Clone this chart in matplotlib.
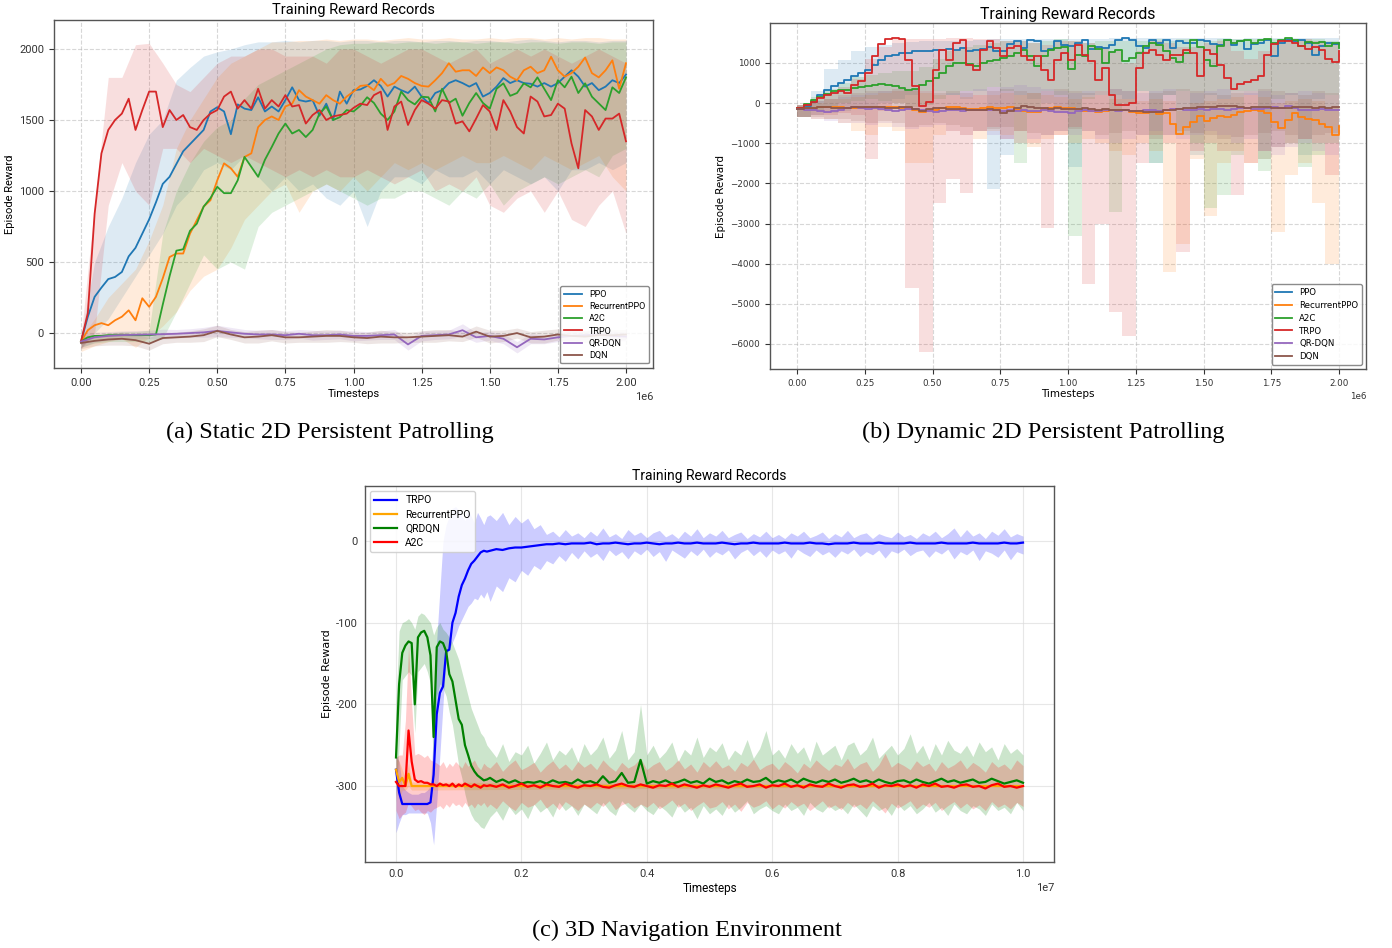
import numpy as np
import matplotlib
matplotlib.use("Agg")
import matplotlib.pyplot as plt
from matplotlib.ticker import FuncFormatter

# ---------------- Panel (a): Static 2D Persistent Patrolling ----------------
a_labels = ["PPO", "RecurrentPPO", "A2C", "TRPO", "QR-DQN", "DQN"]
a_step = 25000            # mean curves sampled every 25k steps (81 points)
a_band_step = 50000       # bands / flat curves sampled every 50k steps (41 points)

a_ppo = [-60, 115, 255, 320, 380, 395, 430, 540, 600, 700, 800, 920, 1050, 1100, 1190, 1280, 1330, 1380, 1430, 1560,
         1590, 1560, 1400, 1610, 1580, 1570, 1660, 1560, 1595, 1560, 1640, 1730, 1640, 1630, 1640, 1530, 1615, 1500, 1700, 1615,
         1710, 1715, 1740, 1780, 1740, 1665, 1735, 1710, 1690, 1735, 1665, 1620, 1690, 1710, 1760, 1780, 1760, 1735, 1760, 1665,
         1690, 1735, 1795, 1760, 1780, 1760, 1755, 1735, 1760, 1735, 1760, 1805, 1850, 1805, 1735, 1760, 1710, 1735, 1780, 1760, 1820]
a_rppo = [-60, 20, 55, 70, 55, 90, 115, 160, 90, 245, 185, 255, 385, 535, 560, 560, 700, 795, 890, 935,
          1075, 1195, 1160, 1100, 1240, 1265, 1450, 1500, 1525, 1500, 1595, 1615, 1710, 1665, 1640, 1615, 1675, 1640, 1615, 1665,
          1700, 1740, 1745, 1710, 1790, 1740, 1760, 1810, 1790, 1760, 1740, 1735, 1780, 1830, 1900, 1840, 1850, 1850, 1810, 1870,
          1830, 1870, 1850, 1805, 1780, 1850, 1875, 1830, 1850, 1945, 1850, 1805, 1830, 1875, 1940, 1830, 1800, 1850, 1920, 1720, 1900]
a_a2c = [-60, -30, -20, -20, -15, -15, -15, -15, -15, -15, -15, -10, 200, 400, 580, 590, 720, 770, 890, 950,
         1030, 985, 985, 1075, 1240, 1170, 1100, 1220, 1310, 1405, 1475, 1405, 1430, 1380, 1430, 1545, 1595, 1500, 1520, 1570,
         1560, 1600, 1660, 1620, 1545, 1500, 1560, 1700, 1640, 1610, 1664, 1660, 1560, 1720, 1620, 1650, 1530, 1620, 1690, 1620,
         1580, 1720, 1758, 1670, 1690, 1758, 1730, 1800, 1720, 1640, 1780, 1730, 1805, 1690, 1758, 1664, 1617, 1570, 1730, 1690, 1800]
a_trpo = [-60, 140, 840, 1265, 1430, 1500, 1545, 1650, 1430, 1570, 1700, 1700, 1450, 1570, 1500, 1535, 1450, 1430, 1500, 1545,
          1570, 1665, 1700, 1580, 1640, 1580, 1720, 1580, 1640, 1595, 1675, 1595, 1605, 1475, 1535, 1570, 1500, 1525, 1535, 1545,
          1585, 1615, 1605, 1675, 1700, 1430, 1595, 1630, 1465, 1570, 1640, 1615, 1580, 1640, 1630, 1475, 1490, 1420, 1510, 1605,
          1560, 1430, 1640, 1560, 1450, 1405, 1665, 1630, 1525, 1535, 1615, 1580, 1335, 1160, 1570, 1525, 1430, 1510, 1510, 1545, 1350]
a_qrdqn = [-60, -30, -20, -15, -12, -10, -8, -5, 0, 5, 15, 5, -5, -10, -10, -15, -5, -15, -15, -10,
           -20, -20, -15, -10, -80, -20, -15, -10, 20, -30, -20, -40, -100, -40, -45, -30, -20, -15, -10, -20, -25]
a_dqn = [-70, -55, -45, -40, -50, -75, -35, -30, -25, -15, 15, -10, -30, -25, -15, -30, -30, -25, -20, -20,
         -30, -35, -25, -30, -30, -25, -20, -15, -25, 10, -25, -20, 0, -30, -25, -10, -20, -25, -15, -15, -10]
a_qrdqn_spread = [40, 35, 30, 30, 30, 30, 35, 30, 30, 35, 40, 35, 30, 30, 35, 30, 30, 35, 30, 30,
                  35, 30, 30, 35, 40, 35, 30, 30, 45, 35, 30, 35, 40, 35, 30, 30, 35, 30, 30, 35, 30]
a_dqn_spread = [40, 35, 40, 45, 40, 45, 40, 35, 40, 45, 40, 35, 40, 45, 40, 40, 35, 40, 45, 40,
                35, 40, 45, 40, 35, 40, 45, 40, 35, 40, 45, 40, 35, 40, 45, 40, 35, 40, 45, 40, 35]

a_ppo_hi = [-30, 500, 750, 950, 1200, 1400, 1500, 1780, 1870, 1950, 1980, 2000, 2030, 2050, 2050, 2060, 2050, 2060, 2060, 2050,
            2060, 2060, 2050, 2060, 2060, 2050, 2060, 2060, 2050, 2060, 2060, 2050, 2060, 2070, 2060, 2050, 2060, 2060, 2050, 2060, 2060]
a_ppo_lo = [-100, 0, 100, 250, 400, 550, 700, 900, 1000, 1150, 1200, 1150, 1250, 1100, 1000, 1100, 1000, 1050, 950, 900,
            1000, 750, 1000, 1100, 1100, 1050, 1150, 1100, 1100, 1150, 1050, 1150, 1100, 1050, 1100, 1000, 1150, 1150, 1200, 1150, 1200]
a_rppo_hi = [-30, 100, 250, 350, 450, 650, 900, 1300, 1500, 1650, 1800, 1900, 1950, 2000, 2050, 2050, 2060, 2060, 2070, 2060,
             2070, 2070, 2060, 2070, 2080, 2070, 2070, 2080, 2070, 2070, 2080, 2070, 2080, 2080, 2070, 2080, 2070, 2080, 2080, 2070, 2070]
a_rppo_lo = [-130, -90, -60, -40, -100, -30, 50, 150, 300, 400, 450, 600, 800, 900, 1000, 1050, 850, 1000, 1050, 1000,
             1100, 1000, 1100, 1200, 1150, 1200, 1150, 1200, 1250, 1200, 1200, 1250, 1200, 1150, 1250, 1200, 1150, 1200, 1250, 1100, 1000]
a_a2c_hi = [-30, -10, 0, 10, 10, 20, 700, 1000, 1200, 1350, 1450, 1500, 1650, 1750, 1800, 1850, 1900, 1950, 2000, 2030,
            2040, 2040, 2050, 2040, 2050, 2050, 2040, 2050, 2050, 2040, 2050, 2050, 2040, 2050, 2050, 2040, 2050, 2050, 2040, 2050, 2050]
a_a2c_lo = [-100, -70, -60, -60, -60, -60, -40, 150, 350, 550, 450, 500, 450, 750, 850, 900, 950, 1000, 1050, 1000,
            950, 900, 950, 950, 1000, 1000, 950, 900, 1000, 950, 1050, 900, 1000, 1050, 1100, 1050, 1100, 1150, 1100, 1250, 1300]
a_trpo_hi = [-30, 900, 1800, 1800, 2030, 2040, 1900, 1750, 1700, 1800, 1900, 1950, 1950, 2000, 2000, 1950, 1950, 1950, 1900, 2000,
             2000, 1950, 1900, 1950, 2000, 2000, 1950, 1900, 1950, 2000, 1900, 1950, 2000, 1950, 2000, 1950, 1900, 1950, 2000, 1950, 1900]
a_trpo_lo = [-110, 0, 900, 1200, 1000, 900, 1300, 1300, 1200, 1300, 1250, 1200, 1250, 1200, 1150, 1100, 1150, 1100, 1150, 1100,
             1100, 1150, 1100, 1050, 1100, 1150, 1000, 1050, 1000, 1100, 900, 850, 950, 1000, 850, 1000, 800, 750, 900, 1000, 700]

# ---------------- Panel (b): Dynamic 2D Persistent Patrolling ----------------
b_ppo = [-150, -80, 35, 200, 325, 415, 500, 580, 665, 750, 830, 955, 1080, 1165, 1205, 1245, 1245, 1290, 1290, 1310,
         1330, 1330, 1345, 1330, 1370, 1310, 1330, 1345, 1410, 1290, 1290, 1480, 1540, 1370, 1580, 1540, 1290, 1345, 1540, 1455,
         1430, 1495, 1580, 1345, 1410, 1370, 1455, 1580, 1620, 1580, 1430, 1370, 1580, 1495, 1565, 1370, 1537, 1495, 1510, 1580,
         1537, 1480, 1455, 1580, 1455, 1537, 1345, 1480, 1510, 1565, 1180, 1510, 1565, 1537, 1565, 1510, 1205, 1413, 1510, 1480, 1510]
b_rppo = [-150, -120, -110, -100, -95, -100, -105, -110, -125, -110, -95, -90, -85, -100, -90, -120, -130, -180, -210, -170,
          -160, -110, -100, -95, -130, -150, -140, -110, -100, -130, -120, -100, -160, -185, -210, -230, -150, -120, -100, -130,
          -125, -150, -185, -200, -210, -190, -170, -160, -180, -230, -250, -240, -230, -260, -250, -520, -780, -600, -480, -330,
          -450, -380, -330, -350, -300, -230, -185, -170, -190, -240, -480, -620, -420, -250, -350, -400, -430, -520, -600, -790, -580]
b_a2c = [-125, -15, 85, 165, 230, 290, 330, 330, 375, 400, 415, 455, 480, 455, 415, 375, 330, 350, 455, 540,
         625, 750, 915, 1000, 1000, 980, 930, 1000, 1040, 1080, 1120, 1180, 1247, 1330, 1163, 930, 1163, 1330, 1370, 1396,
         850, 1205, 1163, 1413, 1345, 1000, 1263, 1313, 1040, 1120, 1247, 1430, 1496, 1454, 1288, 1120, 1015, 1247, 1580, 1396,
         1080, 930, 1430, 1580, 1510, 1537, 1580, 1510, 1580, 1604, 1510, 1580, 1612, 1580, 1430, 1530, 1496, 1530, 1413, 1496, 1380]
b_trpo = [-125, -40, 40, 125, 210, 250, 290, 250, 455, 540, 750, 1165, 1480, 1595, 1620, 1595, 1080, 415, -60, 20,
          830, 1330, 1080, 1495, 1580, 955, 830, 1330, 1537, 1370, 1165, 1370, 1413, 1163, 1080, 1163, 830, 580, 1080, 1245,
          1080, 1455, 1205, 1040, 580, 870, 210, -40, -40, 0, 870, 1245, 1330, 1205, 1080, 1205, 1205, 1330, 1245, 665,
          1330, 1230, 955, 625, 350, 480, 520, 580, 665, 1205, 1480, 1537, 1537, 1510, 1430, 1345, 1396, 1330, 1100, 1015, 1288]
b_qrdqn = [-150, -160, -180, -200, -210, -190, -160, -130, -90, -110, -140, -130, -150, -170, -185, -170, -150, -140, -160, -190,
           -210, -190, -160, -170, -185, -160, -180, -170, -165, -180, -200, -180, -190, -180, -200, -190, -180, -200, -220, -230,
           -250, -200, -180, -190, -200, -180, -170, -190, -180, -200, -190, -170, -180, -190, -170, -150, -140, -160, -170, -150,
           -160, -140, -150, -160, -140, -110, -130, -150, -140, -120, -90, -110, -60, -130, -160, -170, -180, -150, -170, -180, -170]
b_dqn = [-150, -130, -110, -95, -100, -115, -120, -110, -105, -100, -95, -90, -100, -110, -120, -100, -95, -150, -185, -150,
         -130, -125, -135, -140, -150, -165, -180, -160, -150, -180, -250, -200, -120, -70, -90, -110, -130, -140, -130, -140,
         -150, -140, -130, -150, -160, -155, -160, -170, -180, -190, -200, -215, -230, -220, -180, -160, -140, -120, -110, -100,
         -95, -90, -80, -70, -80, -100, -110, -95, -100, -90, -120, -130, -110, -95, -100, -90, -110, -100, -110, -105, -100]

b_ppo_hi = [-80, 300, 850, 1080, 1290, 1410, 1450, 1500, 1520, 1540, 1550, 1560, 1560, 1580, 1590, 1600, 1600, 1600, 1600, 1600,
            1600, 1600, 1600, 1610, 1610, 1620, 1620, 1620, 1610, 1620, 1620, 1610, 1600, 1620, 1620, 1630, 1620, 1610, 1620, 1610, 1600]
b_ppo_lo = [-350, -300, -250, -200, -150, -100, 0, 100, 200, 300, 300, 200, 100, 300, -2150, -1300, 200, 100, 0, -200,
            -1600, 200, 300, 200, 100, 300, -1500, 200, 300, -1300, 200, 100, 300, 200, -1400, -1100, 200, -1300, 100, 200, 200]
b_rppo_hi = [-50, 0, 100, 100, 150, 200, 250, 300, 300, 250, 200, 200, 150, 200, 200, 250, 200, 250, 200, 150,
             100, 150, 200, 100, 100, 50, 100, 50, -200, 0, 50, 100, 150, 200, 150, 0, 50, 100, 50, -100, 0]
b_rppo_lo = [-350, -400, -400, -500, -700, -800, -600, -700, -1500, -1500, -800, -700, -800, -900, -700, -800, -1000, -1100, -900, -800,
             -1000, -900, -1000, -1200, -1300, -1000, -1200, -4200, -3500, -1400, -2800, -1500, -1200, -1500, -1400, -3200, -1800, -1500, -2500, -4000, -3200]
b_a2c_hi = [-50, 150, 350, 500, 650, 700, 750, 800, 800, 900, 1100, 1300, 1400, 1450, 1500, 1550, 1550, 1500, 1550, 1600,
            1550, 1500, 1550, 1550, 1550, 1550, 1600, 1550, 1600, 1600, 1550, 1600, 1600, 1600, 1600, 1600, 1600, 1600, 1600, 1550, 1550]
b_a2c_lo = [-350, -200, -100, 0, 50, 100, 50, 0, -100, -50, 100, 200, 300, 200, 400, 300, -1500, -200, 300, 200,
            -3300, 100, 200, -2700, 0, 300, -1500, 200, -800, -1000, -2600, -2300, -1300, 300, -1700, 100, -1000, -1600, -1300, -1000, -900]
b_trpo_hi = [-50, 100, 250, 400, 600, 1100, 1400, 1600, 1600, 1600, 1600, 1620, 1620, 1600, 1600, 1550, 1550, 1500, 1450, 1550,
             1550, 1500, 1400, 1300, 1000, 1300, 1550, 1500, 1400, 1400, 1500, 1550, 1300, 1100, 1300, 1500, 1600, 1600, 1550, 1500, 1500]
b_trpo_lo = [-350, -300, -300, -250, -300, -1400, -200, 0, -4600, -6200, -2500, -1900, -2250, -700, -600, -900, -700, -1000, -3100, -800,
             -600, -4500, -3000, -5200, -5800, -1500, -800, -1000, -3700, -1200, -1000, -1200, -2300, -1500, -1200, -1100, -1000, -900, -1000, -1800, -1800]
b_qrdqn_hi = [-50, 50, 100, 150, 200, 250, 300, 300, 350, 300, 300, 250, 300, 350, 400, 400, 450, 400, 350, 300,
              250, 300, 300, 350, 300, 250, 300, 350, 300, 250, 300, 350, 300, 250, 300, 200, 250, 300, 250, 200, 250]
b_qrdqn_lo = [-350, -400, -450, -500, -500, -550, -500, -600, -650, -600, -550, -700, -800, -700, -800, -900, -1000, -900, -800, -700,
              -800, -700, -900, -1000, -900, -800, -700, -800, -900, -800, -700, -800, -1000, -900, -1200, -1300, -1100, -1000, -1200, -1300, -1200]
b_dqn_hi = [-50, 50, 100, 200, 250, 300, 300, 350, 350, 300, 250, 300, 250, 200, 300, 350, 300, 250, 300, 350,
            300, 250, 300, 350, 300, 300, 250, 300, 350, 300, 250, 200, 250, 300, 350, 300, 250, 200, 300, 250, 250]
b_dqn_lo = [-350, -350, -400, -400, -450, -500, -450, -500, -600, -550, -500, -550, -600, -700, -650, -600, -700, -750, -800, -700,
            -650, -700, -800, -750, -700, -800, -900, -800, -700, -750, -800, -900, -850, -800, -750, -700, -800, -900, -800, -750, -700]

# ---------------- Panel (c): 3D Navigation Environment ----------------
c_labels = ["TRPO", "RecurrentPPO", "QRDQN", "A2C"]
c_trpo = [-280, -308, -322, -322, -322, -322, -322, -322, -322, -322, -322, -320, -286, -212, -186, -178, -135, -133, -100, -88,
          -68, -54, -46, -36, -28, -24, -19, -14, -12, -13,
          -12, -10, -11, -9, -8, -8, -7, -6, -5, -4, -4, -3, -4, -3, -3, -3,
          -2, -4, -3, -3, -2, -3, -4, -3, -3, -2, -3, -4, -3, -3, -2, -3, -3, -2, -3, -3,
          -3, -2, -3, -4, -3, -3, -2, -3, -3, -3, -3, -2, -3, -3, -3, -2, -3, -3, -4, -3,
          -3, -3, -2, -3, -3, -3, -2, -3, -3, -3, -3, -2, -3, -3, -3, -3, -2, -3, -3, -3,
          -3, -2, -3, -3, -3, -3, -2, -3, -3, -2]
c_trpo_hi = [-262, -270, -300, -305, -308, -310, -310, -310, -308, -308, -305, -300, -230, -120, -60, 0, 20, 30, 40, 42,
             38, 30, 25, 38, 30, 22, 35, 28, 20, 30,
             32, 25, 35, 20, 30, 22, 28, 15, 20, 8, 12, 5, 14, 6, 10, 4,
             12, 6, 16, 5, 9, 3, 14, 7, 11, 4, 10, 13, 5, 9, 3, 12, 6, 15, 4, 10,
             6, 13, 4, 8, 11, 3, 9, 5, 12, 4, 8, 3, 10, 6, 12, 4, 7, 11, 3, 9,
             5, 13, 4, 8, 10, 3, 9, 6, 4, 11, 5, 8, 3, 10, 6, 12, 4, 9, 16, 5,
             14, 6, 10, 3, 12, 7, 15, 5, 9, 6]
c_trpo_lo = [-357, -345, -335, -335, -333, -333, -333, -333, -333, -333, -333, -345, -372, -320, -262, -200, -140, -132, -124, -115,
             -104, -96, -88, -80, -76, -70, -72, -65, -70, -62,
             -74, -55, -62, -45, -50, -36, -42, -30, -35, -24, -28, -18, -25, -14, -22, -12,
             -20, -15, -24, -11, -18, -13, -22, -12, -17, -10, -19, -13, -25, -11, -16, -21, -12, -18, -10, -20,
             -13, -17, -11, -22, -14, -10, -18, -12, -20, -11, -16, -12, -21, -10, -15, -19, -11, -17, -13, -20,
             -12, -16, -10, -19, -13, -17, -11, -21, -12, -15, -10, -18, -13, -11, -20, -12, -16, -10, -22, -13,
             -17, -11, -24, -12, -15, -20, -11, -23, -13, -16]
c_qrdqn = [-265, -175, -137, -128, -123, -125, -200, -118, -112, -110, -118, -140, -240, -130, -123, -125, -135, -163, -172, -195,
           -218, -225, -250, -262, -275, -282, -287, -290, -293, -292,
           -290, -295, -292, -296, -293, -297, -295, -296, -294, -297, -293, -296, -295, -297, -292, -296,
           -294, -297, -288, -296, -294, -284, -296, -295, -268, -297, -294, -296, -293, -297, -295, -292, -296, -294, -297, -291,
           -295, -293, -297, -294, -296, -292, -295, -294, -290, -296, -293, -295, -292, -296, -291, -294, -296, -293, -295, -292,
           -296, -294, -291, -295, -293, -296, -292, -295, -297, -294, -293, -296, -292, -295, -297, -294, -291, -295, -293, -296,
           -294, -292, -296, -295, -291, -294, -297, -295, -293, -296]
c_qrdqn_hi = [-200, -110, -100, -98, -95, -100, -108, -92, -88, -90, -95, -100, -115, -105, -100, -108, -112, -118, -125, -135,
              -145, -160, -175, -190, -205, -215, -225, -235, -240, -250,
              -255, -265, -248, -270, -258, -262, -250, -272, -260, -246, -268, -256, -262, -252, -270, -248,
              -262, -254, -240, -266, -256, -232, -268, -258, -200, -262, -250, -266, -258, -246, -270, -255, -262, -240, -265, -252,
              -258, -247, -268, -256, -262, -243, -266, -254, -232, -262, -255, -266, -248, -260, -252, -270, -245, -262, -256, -250,
              -268, -250, -246, -262, -255, -240, -266, -258, -250, -262, -254, -236, -260, -250, -268, -248, -262, -244, -256, -260,
              -250, -264, -246, -258, -252, -268, -248, -260, -254, -262]
c_qrdqn_lo = [-320, -250, -170, -165, -160, -165, -235, -160, -155, -150, -160, -175, -290, -190, -175, -180, -190, -210, -225, -250,
              -275, -290, -310, -325, -335, -342, -345, -350, -352, -345,
              -338, -330, -342, -325, -335, -328, -340, -322, -332, -326, -338, -320, -330, -324, -336, -322,
              -328, -334, -320, -330, -336, -318, -326, -332, -322, -330, -335, -324, -330, -338, -322, -332, -326, -340, -324, -334,
              -328, -336, -322, -332, -326, -318, -334, -328, -324, -330, -334, -322, -330, -326, -336, -320, -328, -332, -324, -330,
              -326, -334, -322, -330, -338, -324, -330, -326, -336, -322, -330, -324, -334, -328, -320, -332, -326, -336, -322, -330,
              -334, -324, -328, -336, -322, -330, -326, -334, -320, -330]
c_a2c = [-295, -300, -300, -300, -232, -270, -292, -295, -294, -296, -296, -298, -298, -300, -297, -299, -298, -300, -297, -301,
         -298, -300, -297, -299, -301, -298, -300, -302, -299, -300,
         -299, -301, -298, -302, -300, -297, -301, -299, -302, -298, -300, -301, -297, -300, -302, -299,
         -300, -298, -301, -302, -299, -297, -300, -301, -298, -300, -302, -299, -300, -297, -301, -298, -300, -302, -299, -301,
         -298, -300, -302, -299, -297, -301, -300, -298, -302, -299, -300, -297, -301, -299, -302, -298, -300, -301, -297, -300,
         -302, -299, -298, -301, -300, -297, -302, -299, -300, -298, -301, -299, -302, -298, -300, -297, -301, -300, -302, -299,
         -298, -301, -300, -303, -299, -297, -301, -300, -302, -300]
c_a2c_hi = [-265, -262, -262, -220, -128, -200, -262, -260, -262, -265, -262, -268, -270, -272, -275, -270, -278, -272, -276, -270,
            -274, -278, -270, -276, -272, -268, -276, -280, -272, -276,
            -278, -270, -282, -274, -268, -280, -276, -271, -283, -275, -269, -279, -273, -281, -270, -277,
            -272, -280, -268, -276, -282, -271, -278, -274, -266, -280, -274, -270, -281, -276, -268, -279, -273, -283, -270, -277,
            -269, -278, -274, -282, -271, -276, -267, -280, -275, -272, -280, -270, -276, -284, -272, -278, -268, -275, -281, -273,
            -276, -266, -279, -273, -270, -282, -274, -260, -277, -271, -275, -280, -269, -276, -272, -282, -270, -278, -274, -268,
            -279, -271, -276, -283, -270, -277, -273, -280, -268, -275]
c_a2c_lo = [-330, -340, -335, -332, -320, -325, -330, -328, -332, -335, -330, -332, -328, -326, -324, -328, -322, -326, -320, -324,
            -322, -326, -320, -325, -322, -327, -321, -324, -320, -326,
            -322, -328, -318, -325, -330, -320, -326, -323, -316, -327, -321, -329, -319, -324, -330, -322,
            -327, -320, -325, -318, -329, -323, -320, -327, -322, -326, -320, -328, -323, -317, -326, -321, -330, -324, -319, -327,
            -325, -319, -328, -322, -331, -320, -326, -323, -318, -328, -322, -327, -319, -325, -321, -330, -324, -318, -327, -323,
            -329, -320, -326, -322, -328, -318, -325, -333, -321, -327, -323, -318, -328, -322, -326, -320, -330, -324, -319, -327,
            -321, -328, -323, -330, -319, -326, -322, -328, -320, -325]
c_rppo_t = [0, 50000, 100000, 150000, 200000, 250000, 10000000]
c_rppo = [-280, -295, -290, -300, -285, -300, -300]
c_rppo_hi = [-265, -270, -280, -290, -272, -295, -300]
c_rppo_lo = [-300, -315, -305, -305, -300, -305, -300]

# ---------------- figure ----------------
W, H = 1392, 948
fig = plt.figure(figsize=(W / 100, H / 100), dpi=100)
SANS = ["Roboto", "DejaVu Sans"]
DJ = ["DejaVu Sans"]


def px_axes(l, t, r, b):
    return fig.add_axes([l / W, 1 - b / H, (r - l) / W, (b - t) / H])


def style(ax, fam_tick, tsize, grid_ls, grid_col, grid_alpha, tick_len=3.5):
    for s in ax.spines.values():
        s.set_color("#555555")
        s.set_linewidth(1.0)
    ax.tick_params(labelsize=tsize, colors="#333333", length=tick_len, width=0.8)
    for lab in ax.get_xticklabels() + ax.get_yticklabels():
        lab.set_family(fam_tick)
    ax.xaxis.get_offset_text().set_fontsize(tsize)
    ax.xaxis.get_offset_text().set_family(fam_tick)
    ax.grid(True, linestyle=grid_ls, color=grid_col, alpha=grid_alpha, linewidth=0.8)
    ax.set_axisbelow(True)


tab = ["C0", "C1", "C2", "C3", "C4", "C5"]

# ---- panel a ----
ax = px_axes(53.75, 20, 653.25, 368)
ta = np.arange(len(a_ppo)) * a_step
tb = np.arange(len(a_ppo_hi)) * a_band_step
bands_a = [(a_ppo_lo, a_ppo_hi), (a_rppo_lo, a_rppo_hi), (a_a2c_lo, a_a2c_hi), (a_trpo_lo, a_trpo_hi)]
for (lo, hi), c in zip(bands_a, tab[:4]):
    ax.fill_between(tb, lo, hi, color=c, alpha=0.15, linewidth=0)
qr = np.array(a_qrdqn); dq = np.array(a_dqn)
ax.fill_between(tb, qr - np.array(a_qrdqn_spread), qr + np.array(a_qrdqn_spread), color="C4", alpha=0.15, linewidth=0)
ax.fill_between(tb, dq - np.array(a_dqn_spread), dq + np.array(a_dqn_spread), color="C5", alpha=0.15, linewidth=0)
for y, c, lab in zip([a_ppo, a_rppo, a_a2c, a_trpo], tab[:4], a_labels[:4]):
    ax.plot(ta, y, color=c, lw=1.3, label=lab)
ax.plot(tb, a_qrdqn, color="C4", lw=1.3, label=a_labels[4])
ax.plot(tb, a_dqn, color="C5", lw=1.3, label=a_labels[5])
ax.set_xlim(-0.1e6, 2.1e6)
ax.set_ylim(-246, 2204)
ax.set_title("Training Reward Records", family=SANS, fontsize=10.5, pad=4)
ax.set_xlabel("Timesteps", family=SANS, fontsize=8, labelpad=1)
ax.set_ylabel("Episode Reward", family=SANS, fontsize=8, labelpad=3)
style(ax, SANS, 8, "--", "#b0b0b0", 0.5)
ax.legend(loc="lower right", prop={"family": SANS, "size": 6.5}, framealpha=0.85,
          edgecolor="#777777", borderpad=0.4, labelspacing=0.35, handlelength=2.0)

# ---- panel b ----
ax = px_axes(769.9, 23, 1366.1, 369)
tb_ = np.arange(len(b_ppo)) * a_step
bb = np.arange(len(b_ppo_hi)) * a_band_step
bands_b = [(b_ppo_lo, b_ppo_hi), (b_rppo_lo, b_rppo_hi), (b_a2c_lo, b_a2c_hi), (b_trpo_lo, b_trpo_hi),
           (b_qrdqn_lo, b_qrdqn_hi), (b_dqn_lo, b_dqn_hi)]
for (lo, hi), c in zip(bands_b, tab):
    ax.fill_between(bb, lo, hi, color=c, alpha=0.15, linewidth=0, step="post")
for y, c, lab in zip([b_ppo, b_rppo, b_a2c, b_trpo, b_qrdqn, b_dqn], tab, a_labels):
    ax.plot(tb_, y, color=c, lw=1.3, label=lab, drawstyle="steps-post")
ax.set_xlim(-0.1e6, 2.1e6)
ax.set_ylim(-6623, 1996)
ax.set_title("Training Reward Records", family=SANS, fontsize=11.3, pad=3)
ax.set_xlabel("Timesteps", family=DJ, fontsize=7.5, labelpad=1)
ax.set_ylabel("Episode Reward", family=DJ, fontsize=7.5, labelpad=3)
style(ax, DJ, 6.3, "--", "#b0b0b0", 0.5)
ax.legend(loc="lower right", prop={"family": DJ, "size": 6.2}, framealpha=0.85,
          edgecolor="#777777", borderpad=0.4, labelspacing=0.45, handlelength=2.0)

# ---- panel c ----
ax = px_axes(364.65, 486, 1054.35, 862)
tc = np.concatenate([np.arange(30) * 50000, 1500000 + np.arange(86) * 100000])
ax.fill_between(tc, c_trpo_lo, c_trpo_hi, color="blue", alpha=0.2, linewidth=0)
ax.fill_between(c_rppo_t, c_rppo_lo, c_rppo_hi, color="orange", alpha=0.2, linewidth=0)
ax.fill_between(tc, c_qrdqn_lo, c_qrdqn_hi, color="green", alpha=0.2, linewidth=0)
ax.fill_between(tc, c_a2c_lo, c_a2c_hi, color="red", alpha=0.2, linewidth=0)
ax.plot(tc, c_trpo, color="blue", lw=1.6, label=c_labels[0])
ax.plot(c_rppo_t, c_rppo, color="orange", lw=1.6, label=c_labels[1])
ax.plot(tc, c_qrdqn, color="green", lw=1.6, label=c_labels[2])
ax.plot(tc, c_a2c, color="red", lw=1.6, label=c_labels[3])
ax.set_xlim(-0.05e7, 1.05e7)
ax.set_ylim(-393, 67.3)
ax.yaxis.set_major_formatter(FuncFormatter(lambda v, p: f"{int(round(v))}"))
ax.set_title("Training Reward Records", family=SANS, fontsize=10, pad=4)
ax.set_xlabel("Timesteps", family=SANS, fontsize=8.5, labelpad=2)
ax.set_ylabel("Episode Reward", family=DJ, fontsize=8, labelpad=3)
style(ax, SANS, 8, "-", "#dddddd", 0.7, tick_len=0)
ax.tick_params(pad=5)
ax.legend(loc="upper left", prop={"family": SANS, "size": 7.5}, framealpha=0.85,
          edgecolor="#cccccc", borderpad=0.4, labelspacing=0.4, handlelength=2.2)

# ---- captions ----
cap = dict(family=["Liberation Serif", "DejaVu Serif"], fontsize=17.5, ha="center", va="center")
fig.text(330 / W, 1 - 432 / H, "(a) Static 2D Persistent Patrolling", **cap)
fig.text(1043 / W, 1 - 432 / H, "(b) Dynamic 2D Persistent Patrolling", **cap)
fig.text(687 / W, 1 - 930 / H, "(c) 3D Navigation Environment", **cap)

fig.savefig("out.png", dpi=100, facecolor="white")
